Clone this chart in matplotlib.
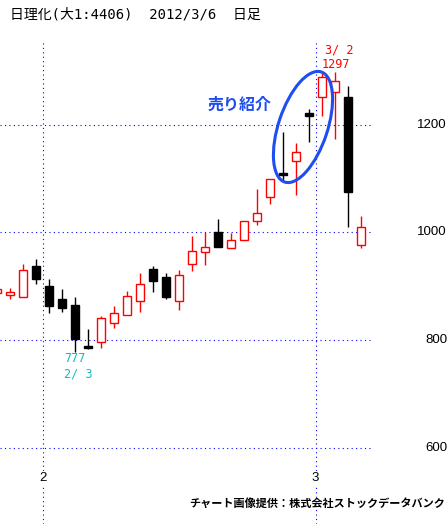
import numpy as np
import matplotlib.pyplot as plt
from matplotlib.patches import Ellipse

plt.rcParams['font.family'] = ['Noto Sans CJK JP', 'DejaVu Sans']

# daily candles, 2012 (last few days of Jan through 3/6)
opens  = [887, 884, 880, 937, 900, 876, 865, 789, 796, 832, 846, 872, 932, 917, 872,
          941, 964, 1000, 971, 986, 1021, 1066, 1110, 1132, 1221, 1251, 1260, 1251, 977]
highs  = [900, 897, 941, 950, 913, 895, 880, 820, 845, 863, 891, 924, 937, 924, 930,
          993, 1000, 1025, 999, 1021, 1080, 1099, 1186, 1166, 1229, 1295, 1297, 1272, 1030]
lows   = [882, 876, 880, 904, 850, 852, 777, 783, 785, 822, 846, 852, 889, 876, 856,
          928, 939, 973, 971, 986, 1014, 1053, 1095, 1069, 1168, 1216, 1174, 1010, 971]
closes = [895, 889, 930, 913, 863, 859, 802, 785, 841, 850, 882, 904, 910, 880, 921,
          965, 973, 973, 986, 1021, 1036, 1099, 1106, 1149, 1216, 1288, 1281, 1075, 1010]

month_first = [4, 25]          # index of first trading day of the month
month_labels = ['2', '3']
price_ticks = [600, 800, 1000, 1200]

low_idx, low_label = 6, '2/ 3'
high_idx, high_label = 26, '3/ 2'

W, H = 448, 524
fig = plt.figure(figsize=(W / 100, H / 100), dpi=100)
ax = fig.add_axes([0, 0, 1, 1])
ax.set_axis_off()

# pixel <-> data helpers (chart area is laid out in pixels)
def px_x(p):
    return (p + 3) / 13.0

def px_y(p):
    return 1000 + (232.3 - p) * (200 / 107.7)

ax.set_xlim(px_x(0), px_x(W))
ax.set_ylim(px_y(H), px_y(0))

grid_col = '#0000ff'
dots = (0, (1, 3))
for t in price_ticks:
    ax.hlines(t, px_x(0), px_x(370), colors=grid_col, lw=0.8, linestyles=dots, zorder=1)
    ax.text(px_x(447), t, str(t), ha='right', va='center', fontsize=9.5,
            family='Liberation Sans')
for m, lab in zip(month_first, month_labels):
    xm = m - 0.5
    ax.vlines(xm, px_y(H), px_y(42), colors=grid_col, lw=0.8, linestyles=dots, zorder=1)
    ax.text(xm, px_y(478), lab, ha='center', va='center', fontsize=9.5,
            family='Liberation Sans', bbox=dict(fc='white', ec='none', pad=0.5))

o = np.array(opens)
c = np.array(closes)
x = np.arange(len(o))
up = c >= o
cols = np.where(up, 'red', 'black')

ax.vlines(x, lows, highs, colors=cols, lw=1.0, zorder=2)
ax.bar(x, np.abs(c - o), bottom=np.minimum(o, c), width=0.6,
       color=np.where(up, 'white', 'black'), edgecolor=cols, lw=1.0, zorder=3)

# high / low marks
mono = ['DejaVu Sans Mono']
ax.annotate(low_label, (low_idx, lows[low_idx]), xytext=(-11, -21.5),
            textcoords='offset pixels', color='#10bcc0', fontsize=8.5,
            family=mono, ha='left', va='center')
ax.annotate(str(lows[low_idx]), (low_idx, lows[low_idx]), xytext=(-11, -6.5),
            textcoords='offset pixels', color='#10bcc0', fontsize=8.5,
            family=mono, ha='left', va='center')
ax.annotate(high_label, (high_idx, highs[high_idx]), xytext=(-10, 22),
            textcoords='offset pixels', color='red', fontsize=8.5,
            family=mono, ha='left', va='center')
ax.annotate(str(highs[high_idx]), (high_idx, highs[high_idx]), xytext=(-13, 8),
            textcoords='offset pixels', color='red', fontsize=8.5,
            family=mono, ha='left', va='center')

# "sell" callout ellipse
ell = Ellipse((3.03, (H - 127) / 100), 1.16, 0.49, angle=71.6, fill=False,
              ec='#1f4ef0', lw=2.2, transform=fig.dpi_scale_trans, zorder=5)
fig.add_artist(ell)
fig.text(272 / W, 1 - 105 / H, '売り紹介', color='#1f4ef0', fontsize=11.5,
         fontweight='bold', ha='right', va='center')

fig.text(10 / W, 1 - 15 / H, '日理化(大1:4406)  2012/3/6  日足', fontsize=10,
         family=['DejaVu Sans Mono', 'Noto Sans CJK JP'], ha='left', va='center')
fig.text(445 / W, 1 - 503 / H, 'チャート画像提供：株式会社ストックデータバンク',
         fontsize=8, fontweight='bold', ha='right', va='center')

fig.savefig('out.png', dpi=100, facecolor='white')
